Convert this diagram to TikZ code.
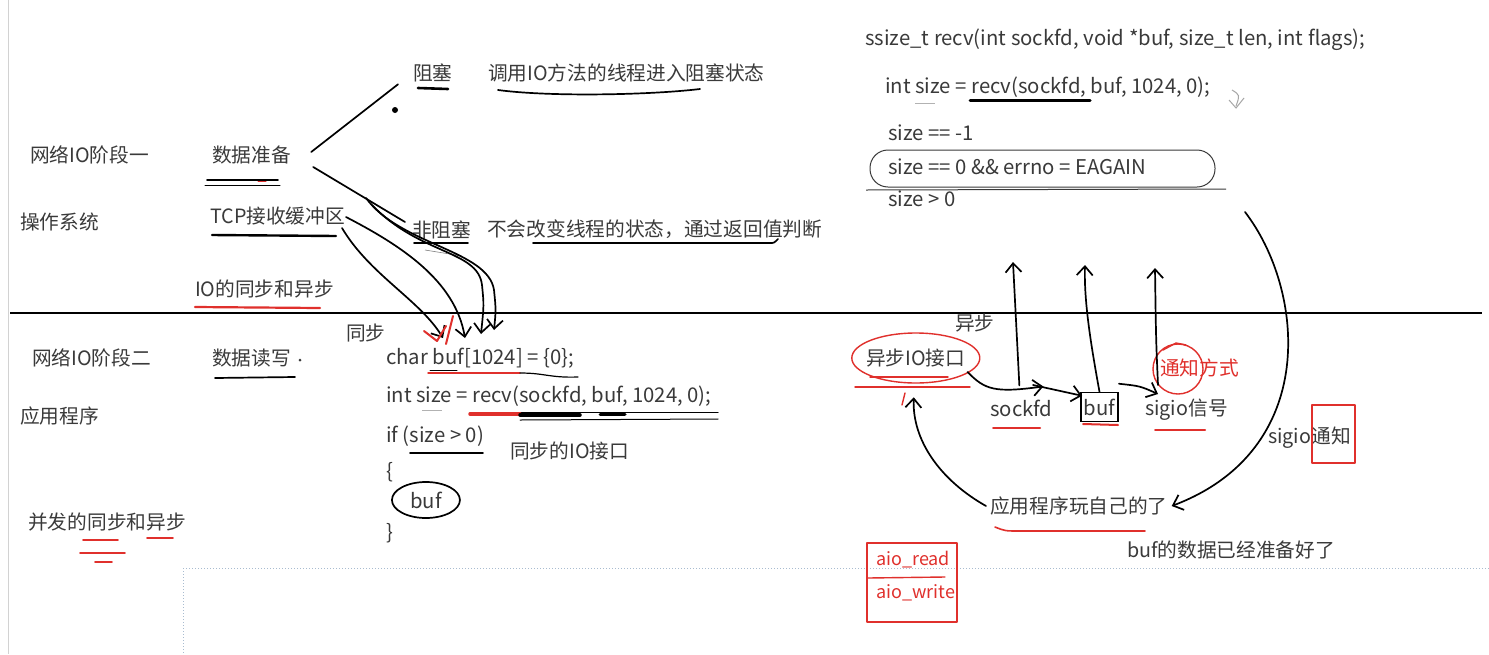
\documentclass[tikz,border=0pt]{standalone}
\usepackage{fontspec}
\setmainfont{Noto Sans CJK SC}
\usetikzlibrary{arrows.meta}

\definecolor{ink}{HTML}{3A3A3A}
\definecolor{penred}{HTML}{E0302C}
\definecolor{gridblue}{HTML}{A9BCD0}

\tikzset{
  lbl/.style={anchor=west, inner sep=0pt, text=ink, font=\fontsize{19.7}{23}\selectfont},
  codeline/.style={lbl, font=\fontsize{20.3}{24}\selectfont},
  redlbl/.style={lbl, text=penred},
  pen/.style={line width=1.7pt, black, line cap=round, line join=round},
  redpen/.style={pen, penred},
  hand/.style={pen, -{Straight Barb[length=9pt,width=16pt]}},
}

\begin{document}
\begin{tikzpicture}[x=1pt,y=-1pt]

\useasboundingbox (0,0) rectangle (1489,654);
\fill[white] (0,0) rectangle (1489,654);
\draw[gray!35, line width=1pt] (8,0) -- (8,654);
\draw[gridblue, dotted, line width=1pt] (183,568) -- (1489,568);
\draw[gridblue, dotted, line width=1pt] (183,568) -- (183,654);

% the kernel / user split
\draw[black, line width=2pt] (10,313) -- (1482,313);

% left column
\node[lbl] (stage1) at (30,155) {网络IO阶段一};
\node[lbl] (prep) at (212,155) {数据准备};
\node[lbl] (os) at (20,222) {操作系统};
\node[lbl] (tcpbuf) at (210,216) {TCP接收缓冲区};
\node[lbl] (iosync) at (195,289) {IO的同步和异步};
\node[lbl] (stage2) at (32,358) {网络IO阶段二};
\node[lbl] (rw) at (212,358) {数据读写};
\node[lbl] (app) at (20,416) {应用程序};
\node[lbl] (concur) at (28,522) {并发的同步和异步};

\draw[pen] (207,180) -- (278,180);
\draw[pen, line width=1pt] (205,185) -- (280,185);
\draw[redpen, line width=1pt] (258,181) -- (266,181);
\draw[pen, line width=2.4pt] (212,235) -- (336,236);
\draw[redpen, line width=2.2pt] (195,307) -- (320,308);
\draw[pen] (215,378) -- (295,377);
\fill[ink] (300,360) circle (1.5);
\foreach \xa/\xb/\y in {83/118/540, 80/125/553, 95/112/562, 147/173/538}
  \draw[redpen, line width=1.8pt] (\xa,\y) -- (\xb,\y);

% blocking / non-blocking
\node[lbl] (block) at (413,73) {阻塞};
\node[lbl] (blockdesc) at (488,73) {调用IO方法的线程进入阻塞状态};
\node[lbl] (nonblock) at (412,230) {非阻塞};
\node[lbl] (nbdesc) at (487,229) {不会改变线程的状态，通过返回值判断};

\draw[pen] ([xshift=20pt,yshift=3pt]prep.east) -- ([xshift=-15pt,yshift=-2pt]block.south west);
\draw[pen] ([xshift=22pt,yshift=-12pt]prep.east) -- ([xshift=-7pt,yshift=8pt]nonblock.west);
\fill (395,110) circle (3);

\draw[pen, line width=2.6pt] (418,88) -- (448,89);
\draw[pen] (498,90) .. controls (550,97) and (650,95) .. (700,89);
\draw[pen] (414,243) -- (468,243);
\draw[gray, line width=0.6pt] (425,250) -- (462,256);
\draw[pen] (533,243) -- (770,243) .. controls (774,243) .. (778,239);

% hand drawn arrows into the code
\coordinate (hitA) at (443,338);
\coordinate (hitB) at (465,338);
\coordinate (hitC) at (481,334);
\coordinate (hitD) at (494,330);
\draw[hand] (342,228) .. controls (370,275) and (420,300) .. (hitA);
\draw[hand] (346,217) .. controls (400,245) and (455,280) .. (hitB);
\draw[hand] (372,205) .. controls (420,255) and (478,250) .. (482,285) .. controls (484,305) .. (hitC);
\draw[hand] (366,198) .. controls (400,245) and (488,250) .. (494,290) .. controls (496,310) .. (hitD);
\draw[redpen, line width=2pt] (424,331) -- (437,341) -- (446,326);
\draw[redpen, line width=2pt] (453,316) -- (446,344);

% synchronous code
\node[lbl] (sync) at (346,333) {同步};
\node[codeline] (c1) at (386,358) {char buf[1024] = \{0\};};
\node[codeline] (c2) at (386,396) {int size = recv(sockfd, buf, 1024, 0);};
\node[codeline] (c3) at (386,436) {if (size > 0)};
\node[lbl] (syncapi) at (510,451) {同步的IO接口};
\node[codeline] (c4) at (386,472) {\{};
\node[codeline] (c5) at (410,500) {buf};
\node[codeline] (c6) at (386,533) {\}};

\draw[pen, line width=1pt] (430,370) -- (457,370);
\draw[redpen, line width=1.4pt] (428,373) -- (520,373);
\draw[pen, line width=1.2pt] (520,373) .. controls (545,373) and (550,378) .. (578,377);
\draw[gray!60, line width=1pt] (422,410) -- (442,410);
\draw[pen, line width=1pt] (470,412) -- (718,412);
\draw[pen, line width=1pt] (520,420) -- (718,419);
\draw[redpen, line width=3.5pt] (470,414) -- (520,414);
\draw[pen, line width=3.5pt] (520,415) -- (580,415);
\draw[pen, line width=3pt] (600,414) -- (625,414);
\draw[pen] (410,453) -- (483,453);
\draw[pen] (c5) ellipse (34 and 18);

% non-blocking recv on the right
\node[codeline] (proto) at (865,40) {ssize\_t recv(int sockfd, void *buf, size\_t len, int flags);};
\node[codeline] (r1) at (885,87) {int size = recv(sockfd, buf, 1024, 0);};
\node[codeline] (r2) at (888,133) {size == -1};
\node[codeline] (r3) at (888,167) {size == 0 \&\& errno = EAGAIN};
\node[codeline] (r4) at (888,199) {size > 0};

\draw[pen, line width=3pt] (970,100) -- (1090,100);
\draw[gray!60, line width=1pt] (915,103) -- (935,103);
\draw[gray!70, line width=1pt] (1232,90) .. controls (1240,95) .. (1236,106);
\draw[gray!70, line width=1pt] (1229,100) -- (1236,108) -- (1244,98);
\draw[ink, line width=1pt, rounded corners=18pt] (870,150) rectangle (1215,187);
\draw[ink, line width=1pt] (866,190) -- (1226,189);

% asynchronous side
\node[lbl] (async) at (955,323) {异步};
\node[lbl] (aioapi) at (866,358) {异步IO接口};
\node[codeline] (sockfd) at (990,408) {sockfd};
\node[codeline, draw=black, line width=1.5pt, inner sep=3pt, minimum height=29pt] (buf) at (1080,407) {buf};
\node[lbl] (sigio) at (1145,410) {sigio信号};
\node[redlbl] (notify) at (1160,368) {通知方式};
\node[lbl] (sigionote) at (1268,438) {sigio通知};
\node[lbl] (appself) at (990,506) {应用程序玩自己的了};
\node[lbl] (bufready) at (1127,550) {buf的数据已经准备好了};
\node[redlbl, font=\fontsize{18}{22}\selectfont] (aioread) at (876,560) {aio\_read};
\node[redlbl, font=\fontsize{18}{22}\selectfont] (aiowrite) at (876,593) {aio\_write};

\draw[redpen, line width=1.4pt] (aioapi.center) ellipse (64 and 25);
\draw[redpen, line width=1.4pt] (870,377) -- (948,377);
\draw[redpen, line width=1.4pt] (855,387) -- (970,387);
\draw[redpen, line width=1.4pt] (905,393) -- (902,405);
\draw[redpen, line width=1.4pt] (1178,369) circle (25);
\draw[redpen, line width=1.4pt] (1163,350) -- (1176,343) -- (1186,345);
\draw[redpen, line width=1.4pt] (1312,405) rectangle (1355,463);
\draw[redpen, line width=1.4pt] (867,543) rectangle (957,622);
\draw[redpen, line width=1.4pt] (868,578) -- (945,577);

\draw[redpen, line width=2pt] (993,428) -- (1040,428);
\draw[redpen, line width=2pt] (1083,424) -- (1118,425);
\draw[redpen, line width=2pt] (1155,430) -- (1205,430);
\draw[redpen, line width=1.6pt] (995,527) .. controls (1005,531) .. (1020,531) -- (1145,531);

\coordinate (up1) at (1013,262);
\coordinate (up2) at (1085,265);
\coordinate (up3) at (1155,268);
\coordinate (tail) at (1245,212);
\draw[hand] ([xshift=-2pt,yshift=14pt]sockfd.north) -- (up1);
\draw[hand] (buf.north) .. controls (1090,340) and (1084,300) .. (up2);
\draw[hand] (1158,385) .. controls (1156,340) .. (up3);
\draw[hand] (tail) .. controls (1305,290) and (1320,450) .. ([xshift=4pt]appself.east);
\draw[hand] ([xshift=-4pt]appself.west) .. controls (940,480) and (912,440) .. ([xshift=-2pt,yshift=-30pt]aioapi.south);
\draw[hand] ([xshift=2pt,yshift=-14pt]aioapi.east) .. controls (985,390) and (995,393) .. ([xshift=22pt,yshift=13pt]sockfd.north);
\draw[hand] (1033,385) -- ([xshift=2pt,yshift=-4pt]buf.north west);
\draw[hand] ([yshift=8pt]buf.north east) .. controls (1140,386) .. (1158,394);

\end{tikzpicture}
\end{document}
